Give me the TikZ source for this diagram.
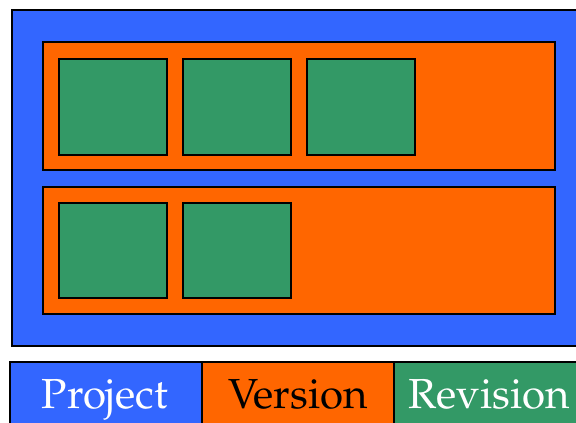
\documentclass[tikz,border=0pt]{standalone}
\usepackage[T1]{fontenc}
\renewcommand{\rmdefault}{ppl}
\begin{document}
\begin{tikzpicture}[x=1pt,y=-1pt,
  frame/.style={draw=black,line width=2pt},
  projectbox/.style={frame,fill=projblue},
  versionbox/.style={frame,fill=verorange},
  revbox/.style={frame,fill=revgreen},
  legendtext/.style={font=\fontencoding{T1}\fontfamily{ppl}\fontsize{42}{44}\selectfont,anchor=base}]
\definecolor{projblue}{HTML}{3366FF}
\definecolor{verorange}{HTML}{FF6600}
\definecolor{revgreen}{HTML}{339966}
\useasboundingbox (0,0) rectangle (576,423);
\clip (0,0) rectangle (576,423);
% project container
\path[projectbox] (12,10) rectangle (590,346);
% versions
\path[versionbox] (43,42) rectangle (555,170);
\path[versionbox] (43,187) rectangle (555,314);
% revisions of the first version
\path[revbox] (59,59) rectangle (167,155);
\path[revbox] (183,59) rectangle (291,155);
\path[revbox] (307,59) rectangle (415,155);
% revisions of the second version
\path[revbox] (59,203) rectangle (167,298);
\path[revbox] (183,203) rectangle (291,298);
% legend
\path[projectbox] (10,362) rectangle (202,440);
\path[versionbox] (202,362) rectangle (394,440);
\path[revbox] (394,362) rectangle (590,440);
\node[legendtext,text=white] (lp) at (105,408) {Project};
\node[legendtext,text=black] (lv) at (298,408) {Version};
\node[legendtext,text=white] (lr) at (489.5,408) {Revision};
\end{tikzpicture}
\end{document}
